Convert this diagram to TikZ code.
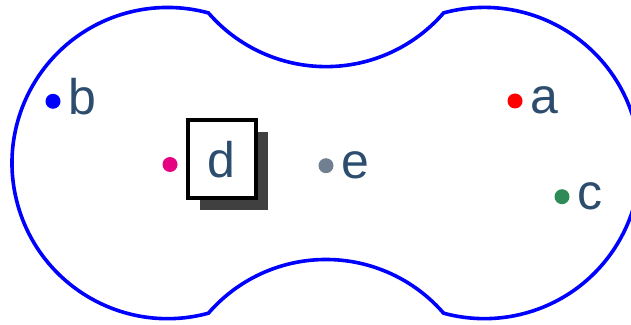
\documentclass[tikz,border=0pt]{standalone}
\usepackage{fontspec}
\setmainfont{Liberation Sans}
\usetikzlibrary{positioning,shadows}
\definecolor{labelblue}{RGB}{44,77,110}
\definecolor{dotpink}{RGB}{230,0,130}
\definecolor{dotgreen}{RGB}{46,139,87}
\definecolor{dotgrey}{RGB}{112,128,144}
\tikzset{
  blob/.style={draw=blue, line width=3.6pt},
  pt/.style={circle, inner sep=0pt, minimum size=15pt, fill=#1},
  lbl/.style={inner sep=0pt, text height=26pt, text depth=0pt, text=labelblue, font=\fontsize{50}{60}\selectfont},
  boxed/.style={draw=black, line width=4pt, fill=white, minimum width=68pt, minimum height=78pt, inner sep=0pt,
    text=labelblue, font=\fontsize{50}{60}\selectfont,
    drop shadow={shadow xshift=12pt, shadow yshift=-12pt, fill=black!75, opacity=1}}
}
\begin{document}
\begin{tikzpicture}[x=1pt, y=1pt]
  \clip (0,0) rectangle (631,324);
  % outline: two big circles joined by two hollow arcs
  \draw[blob] (208.4,311.1)
    arc[start angle=220.9, end angle=319.1, radius=155.6pt]
    arc[start angle=105.2, end angle=-105.2, radius=155.6pt]
    arc[start angle=40.9, end angle=139.1, radius=155.6pt]
    arc[start angle=285.2, end angle=74.8, radius=155.6pt] -- cycle;

  \node[pt=blue] (bdot) at (53,222.7) {};
  \node[lbl, right=8pt of bdot] (b) {b};
  \node[pt=red] (adot) at (515,223) {};
  \node[lbl, right=8pt of adot] (a) {a};
  \node[pt=dotgreen] (cdot) at (562,127.3) {};
  \node[lbl, right=8pt of cdot] (c) {c};
  \node[pt=dotgrey] (edot) at (326,158.3) {};
  \node[lbl, right=8pt of edot] (e) {e};
  \node[pt=dotpink] (ddot) at (170,159.5) {};
  \node[boxed] (d) at (221.7,164.8) {d};
\end{tikzpicture}
\end{document}
